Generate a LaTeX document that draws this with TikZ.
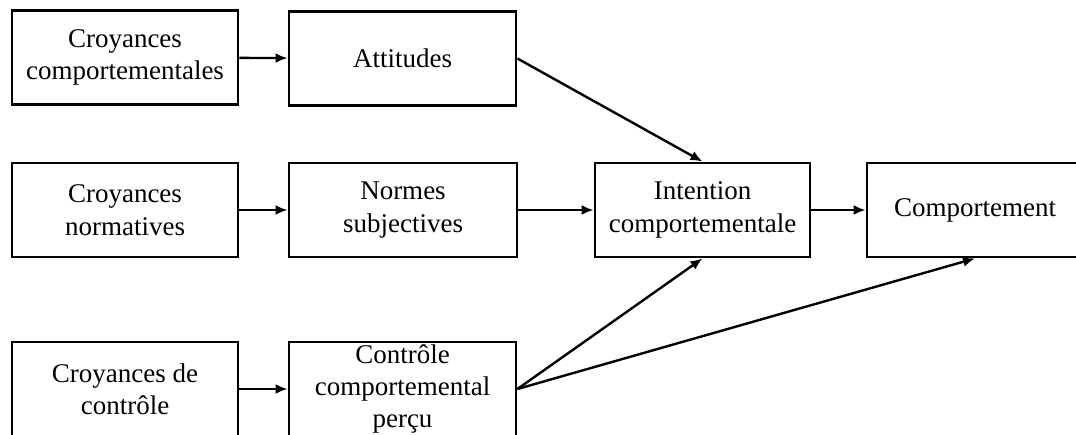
\documentclass[tikz,border=0pt]{standalone}
\usepackage{fontspec}
\setmainfont{Liberation Serif}
\usetikzlibrary{arrows.meta}

\begin{document}
\begin{tikzpicture}[x=0.5pt, y=-0.5pt,
    boite/.style={draw, line width=1.4pt, align=center, inner xsep=2pt, inner ysep=0pt,
        minimum width=#1*0.5pt, minimum height=47pt,
        font=\fontsize{13.5}{16.2}\selectfont},
    fleche/.style={line width=1.2pt, -{Latex[length=6pt,width=5pt]}}]
    \useasboundingbox (0,0) rectangle (1076,434);
    \clip (0,0) rectangle (1076,434);

    % Croyances
    \node[boite=226] (cc) at (125,57.5) {Croyances\\comportementales};
    \node[boite=226] (cn) at (125,210) {Croyances\\normatives};
    \node[boite=226] (cdc) at (125,389) {Croyances de\\contrôle};

    % Attitudes, normes, controle
    \node[boite=227] (att) at (402.5,58.5) {Attitudes};
    \node[boite=228] (ns) at (403,210) {Normes\\subjectives};
    \node[boite=227] (ccp) at (402.5,389) {Contrôle\\comportemental\\perçu};

    % Intention et comportement
    \node[boite=215] (int) at (702.5,210) {Intention\\comportementale};
    \node[boite=216] (comp) at (975,210) {Comportement};

    % Fleches
    \draw[fleche] (cc) -- (att);
    \draw[fleche] (cn) -- (ns);
    \draw[fleche] (cdc) -- (ccp);
    \draw[fleche] (att.east) -- (int.north);
    \draw[fleche] (ns) -- (int);
    \draw[fleche] (ccp.east) -- (int.south);
    \draw[fleche] (ccp.east) -- (comp.south);
    \draw[fleche] (int) -- (comp);
\end{tikzpicture}
\end{document}
